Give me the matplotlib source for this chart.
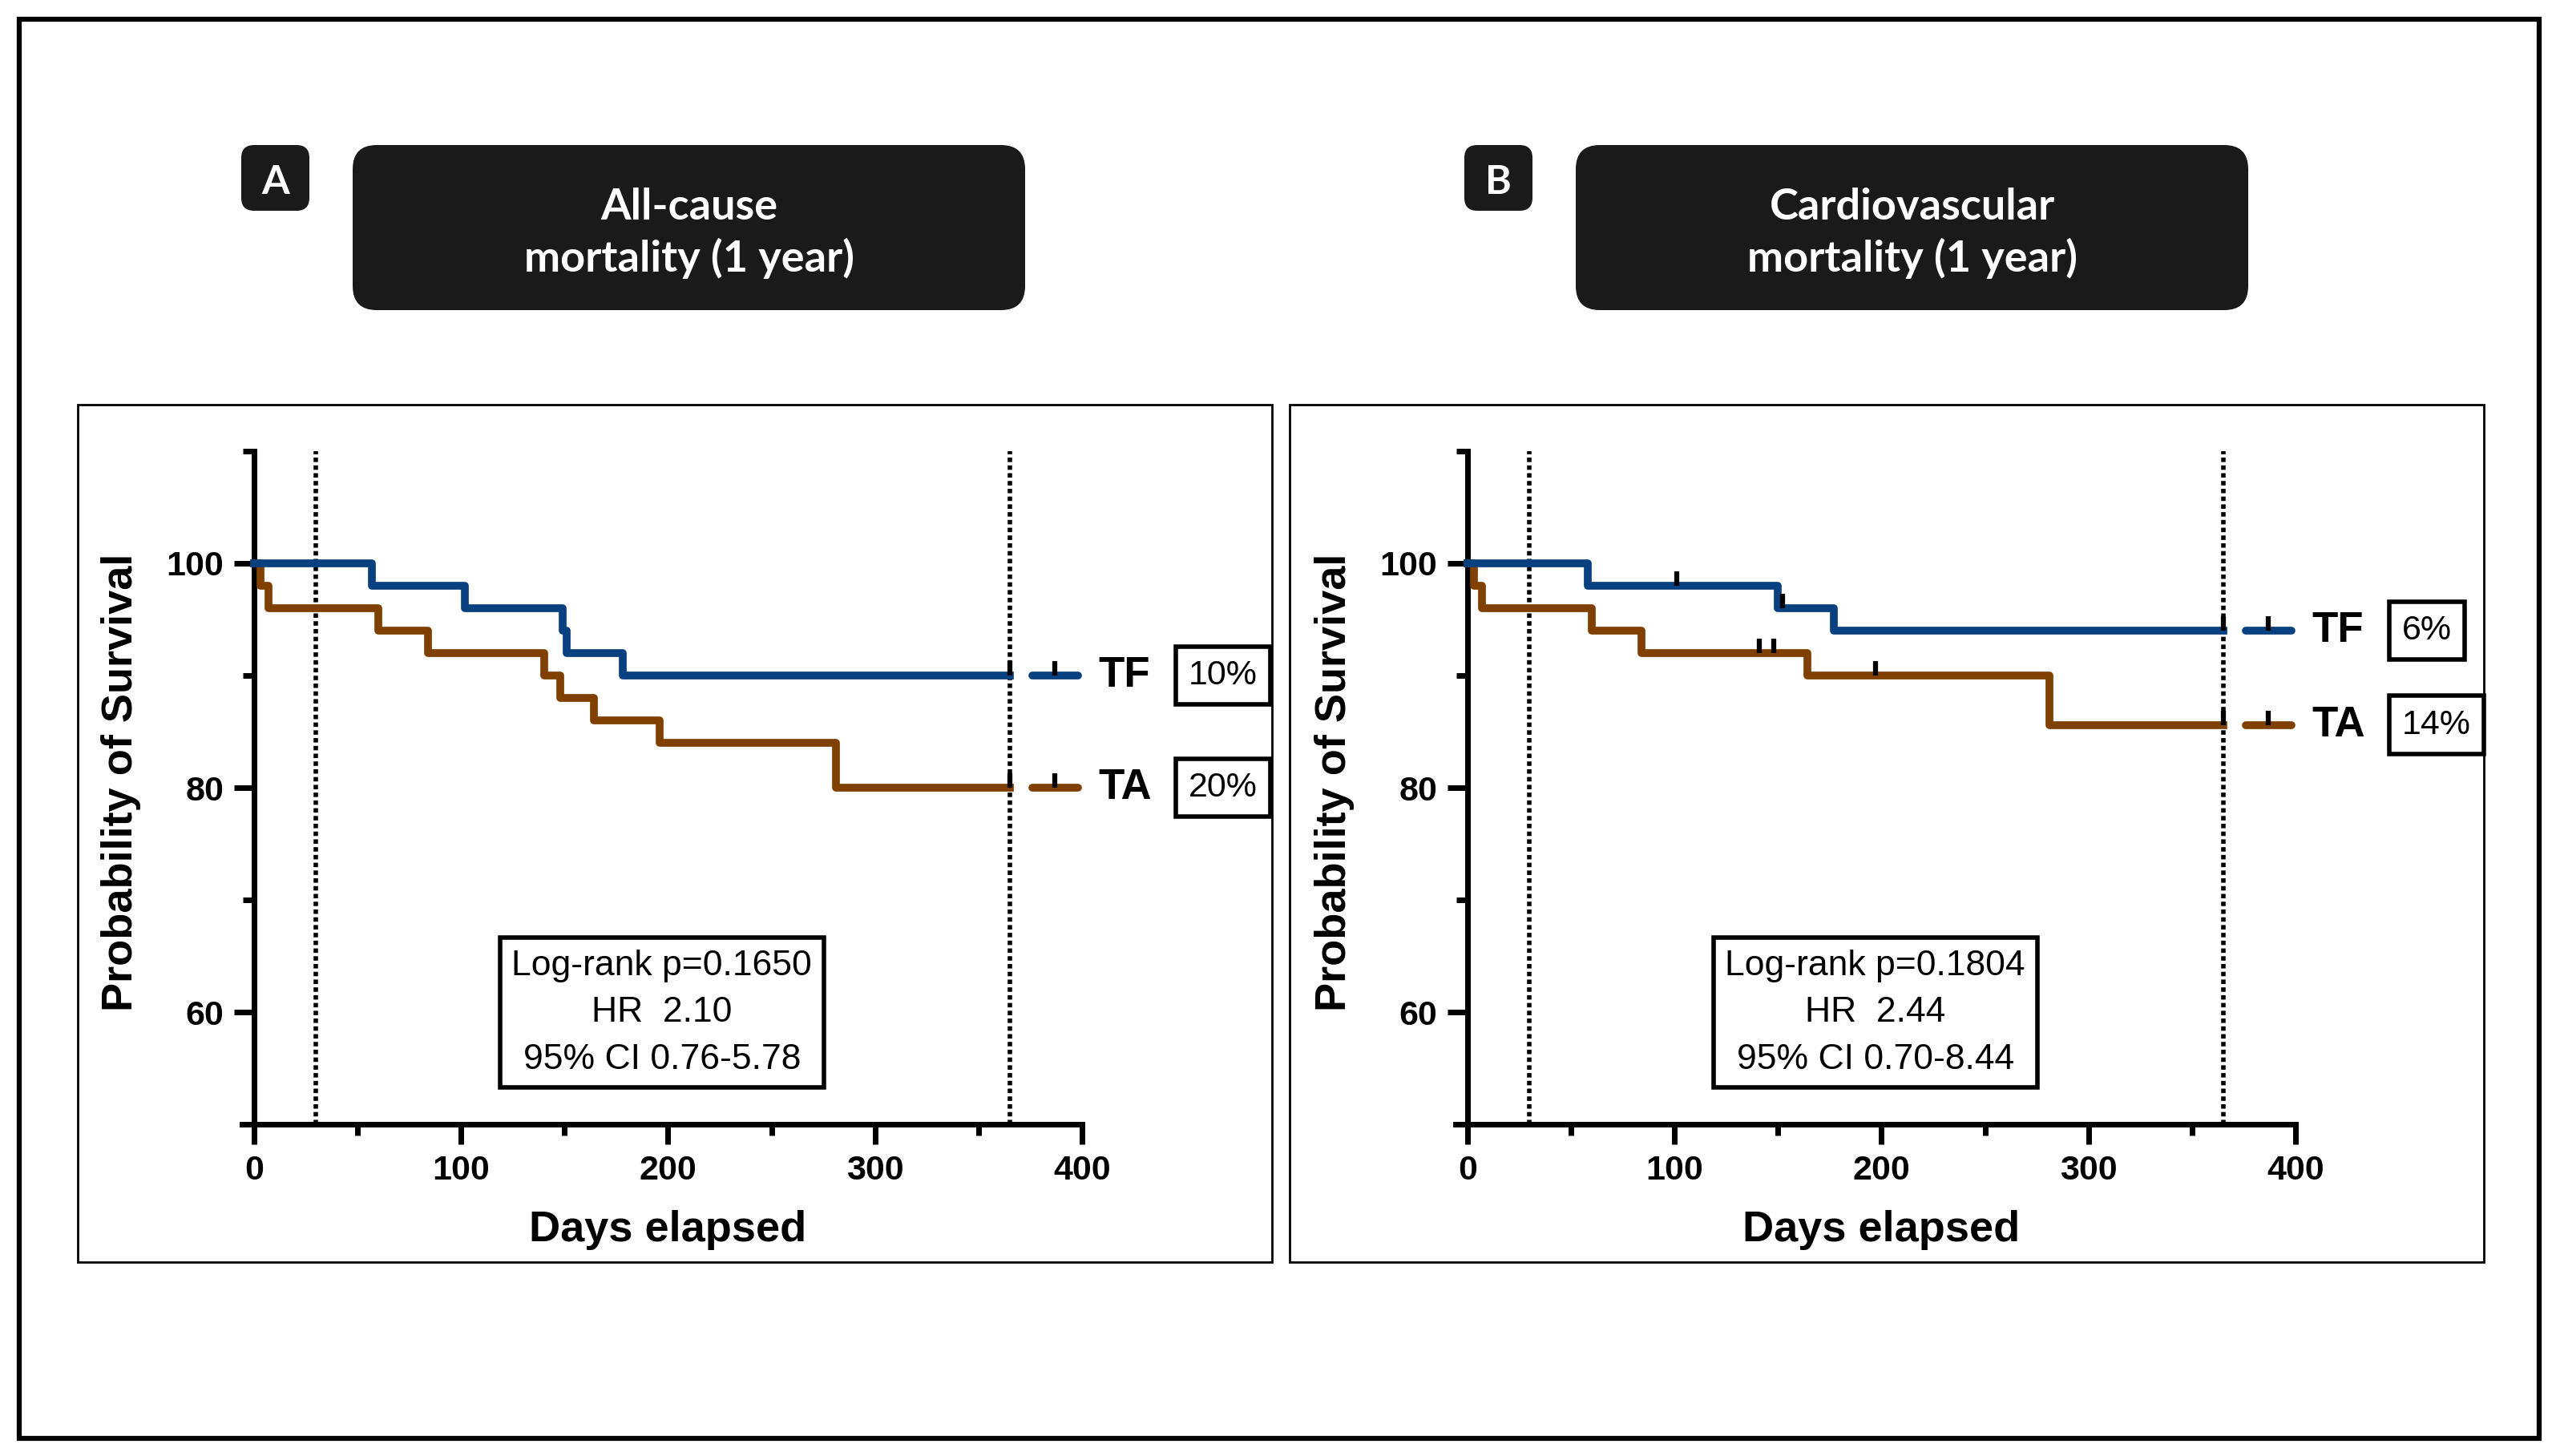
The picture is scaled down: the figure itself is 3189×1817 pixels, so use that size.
import numpy as np
import matplotlib
matplotlib.use('Agg')
import matplotlib.pyplot as plt
from matplotlib.patches import Rectangle, FancyBboxPatch

# Kaplan-Meier curves (days, % surviving)
a_tf_days = [0, 57, 102, 149, 151, 178, 365]
a_tf_surv = [100, 98, 96, 94, 92, 90, 90]
a_ta_days = [0, 3, 7, 60, 84, 140, 148, 164, 196, 281, 365]
a_ta_surv = [100, 98, 96, 94, 92, 90, 88, 86, 84, 80, 80]
a_tf_cens = [365]
a_ta_cens = [365]

b_tf_days = [0, 58, 150, 177, 365]
b_tf_surv = [100, 98, 96, 94, 94]
b_ta_days = [0, 3, 7, 60, 84, 164, 281, 365]
b_ta_surv = [100, 98, 96, 94, 92, 90, 85.6, 85.6]
b_tf_cens = [101, 152, 365]
b_ta_cens = [141, 148, 197, 365]

groups = ['TF', 'TA']
a_pct = ['10%', '20%']
b_pct = ['6%', '14%']
a_stats = 'Log-rank p=0.1650\nHR  2.10\n95% CI 0.76-5.78'
b_stats = 'Log-rank p=0.1804\nHR  2.44\n95% CI 0.70-8.44'
titles = ['All-cause\nmortality (1 year)', 'Cardiovascular\nmortality (1 year)']
letters = ['A', 'B']

c_tf = '#084080'
c_ta = '#804000'
W, H = 3189, 1817
tick = [(0, 0), (0, 1)]  # censor mark sitting on top of the line
dots = (0, (1.0, 0.75))

fig = plt.figure(figsize=(W / 100, H / 100), dpi=100)
bg = fig.add_axes([0, 0, 1, 1], zorder=0)
bg.set_xlim(0, W)
bg.set_ylim(H, 0)
bg.axis('off')

# outer frame and the two panel frames
bg.add_patch(Rectangle((24, 24), 3144, 1771, fill=False, lw=4.5, ec='black'))
for x0 in [97, 1609]:
    bg.add_patch(Rectangle((x0, 505), 1490, 1070, fill=False, lw=2, ec='black'))

# header boxes
for i, x0 in enumerate([0, 1526]):
    bg.add_patch(FancyBboxPatch((301 + x0, 181), 85, 82,
                                boxstyle='round,pad=0,rounding_size=16',
                                fc='#1a1a1a', ec='none'))
    bg.text(343.5 + x0, 228, letters[i], color='white', fontsize=36,
            fontweight='bold', family='Lato', ha='center', va='center')
    bg.add_patch(FancyBboxPatch((440 + x0, 181), 839, 206,
                                boxstyle='round,pad=0,rounding_size=30',
                                fc='#1a1a1a', ec='none'))
    bg.text(859.5 + x0, 291, titles[i], color='white', fontsize=39,
            fontweight='bold', family='Lato', ha='center', va='center',
            linespacing=1.35)

ppd = 1033 / 400.0  # pixels per day
ax_w = 406 * ppd
panels = [
    (301.5, [a_tf_days, a_ta_days], [a_tf_surv, a_ta_surv], [a_tf_cens, a_ta_cens], a_pct, a_stats),
    (1815.5, [b_tf_days, b_ta_days], [b_tf_surv, b_ta_surv], [b_tf_cens, b_ta_cens], b_pct, b_stats),
]

def step_value(days, surv, t):
    idx = np.searchsorted(days, t, side='right') - 1
    return surv[idx]

for left, days, surv, cens, pct, stats in panels:
    ax = fig.add_axes([left / W, 1 - 1403 / H, ax_w / W, 840 / H], zorder=1)
    ax.patch.set_alpha(0)
    ax.set_xlim(-6, 400)
    ax.set_ylim(50, 110)
    for s in ['top', 'right']:
        ax.spines[s].set_visible(False)
    ax.spines['left'].set_position(('data', 0))
    for s in ['left', 'bottom']:
        ax.spines[s].set_linewidth(5)
    ax.set_xticks([0, 100, 200, 300, 400])
    ax.set_xticks([50, 150, 250, 350], minor=True)
    ax.set_yticks([60, 80, 100])
    ax.set_yticks([50, 70, 90, 110], minor=True)
    ax.tick_params(which='major', length=18, width=5, pad=9)
    ax.tick_params(which='minor', length=10, width=5)
    for lab in ax.get_xticklabels() + ax.get_yticklabels():
        lab.set_fontsize(31)
        lab.set_fontweight('bold')
        lab.set_family('Liberation Sans')

    ax.axvline(30, color='black', lw=4, ls=dots, zorder=1)
    ax.axvline(365, color='black', lw=4, ls=dots, zorder=1)

    for g in [1, 0]:
        col = c_tf if g == 0 else c_ta
        ax.plot(days[g], surv[g], drawstyle='steps-post', color=col, lw=7,
                zorder=3, clip_on=False)
        cy = [step_value(days[g], surv[g], t) for t in cens[g]]
        ax.plot(cens[g], cy, ls='none', marker=tick, ms=26, mew=4.5,
                mec='black', zorder=4, clip_on=False)

    # legend placed at the end value of each curve
    for g in [0, 1]:
        col = c_tf if g == 0 else c_ta
        yv = surv[g][-1]
        ax.plot([376, 398], [yv, yv], color=col, lw=7, solid_capstyle='round',
                clip_on=False, zorder=3)
        ax.plot([387], [yv], ls='none', marker=tick, ms=26, mew=4.5,
                mec='black', zorder=4, clip_on=False)
        ax.text(408, yv, groups[g], fontsize=38, fontweight='bold',
                family='Liberation Sans', ha='left', va='center')
        ax.text(451.5, yv, pct[g], fontsize=31, family='Liberation Sans',
                ha='left', va='center',
                bbox=dict(boxstyle='square,pad=0.38', fc='white', ec='black', lw=4))

    ax.text(197, 59.95, stats, fontsize=32, family='Liberation Sans',
            ha='center', va='center', multialignment='center', linespacing=1.55,
            bbox=dict(boxstyle='square,pad=0.33', fc='white', ec='black', lw=4))

    ax.set_xlabel('Days elapsed', fontsize=39, fontweight='bold', family='Liberation Sans')
    ax.xaxis.set_label_coords(206 / 406.0, -0.127)
    ax.set_ylabel('Probability of Survival', fontsize=39, fontweight='bold',
                  family='Liberation Sans')
    ax.yaxis.set_label_coords((176 - 301.5) / ax_w, (1403 - 976) / 840.0)

fig.savefig('out.png', dpi=100)
